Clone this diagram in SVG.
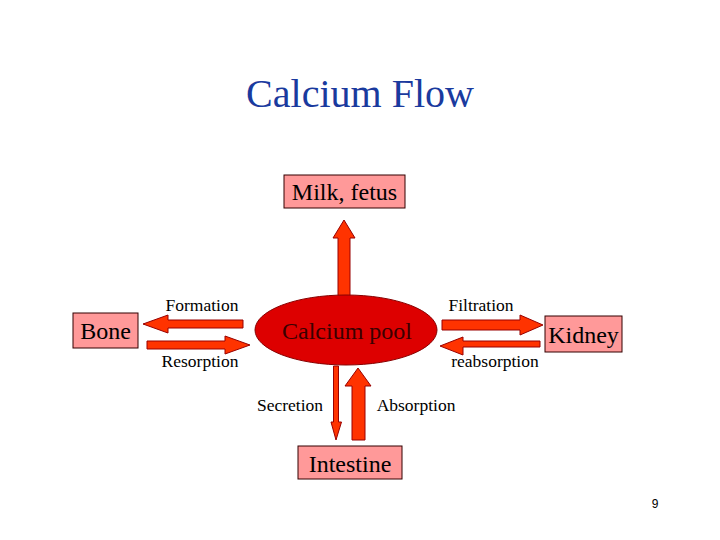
<svg xmlns="http://www.w3.org/2000/svg" width="720" height="540" viewBox="0 0 720 540">
<style>
.box{fill:#ff9999;stroke:#330000;stroke-width:1}
.arr{fill:#ff3300;stroke:#990000;stroke-width:1}
.t{font-family:"Liberation Serif","Times New Roman",serif;fill:#000}
.big{font-size:24px}
.sm{font-size:17.5px}
</style>
<rect width="720" height="540" fill="#fff"/>
<text x="360" y="107" text-anchor="middle" class="t" style="font-size:40px;fill:#1a3a9e">Calcium Flow</text>
<g id="connectors">
<polygon class="arr" points="338,297 338,238 333,238 344,220 355,238 350,238 350,297"/>
<polygon class="arr" points="243,320 168,320 168,315 143,324 168,333 168,328 243,328"/>
<polygon class="arr" points="147,341 225,341 225,336 250,345 225,354 225,349 147,349"/>
<polygon class="arr" points="442,320 520,320 520,315 543,325 520,335 520,330 442,330"/>
<polygon class="arr" points="540,341 463,341 463,337 440,346 463,355 463,347 540,347"/>
<polygon class="arr" points="333.5,366 333.5,422 331,422 336,440 341.5,422 338.5,422 338.5,366"/>
<polygon class="arr" points="352,440 352,386 345,386 358,368 371,386 365,386 365,440"/>
</g>
<g id="milk"><rect class="box" x="284" y="175" width="121" height="33"/><text x="344.5" y="200" text-anchor="middle" class="t big">Milk, fetus</text></g>
<g id="pool"><ellipse cx="346" cy="330" rx="91" ry="35" fill="#dd0000" stroke="#880000" stroke-width="1"/><text x="347" y="339" text-anchor="middle" class="t big" style="fill:#3a0000">Calcium pool</text></g>
<g id="bone"><rect class="box" x="73" y="313" width="65" height="35"/><text x="105.5" y="339" text-anchor="middle" class="t big">Bone</text></g>
<g id="kidney"><rect class="box" x="545" y="316" width="77" height="36"/><text x="583.5" y="343" text-anchor="middle" class="t big">Kidney</text></g>
<g id="intestine"><rect class="box" x="298" y="446" width="104" height="33"/><text x="350" y="472" text-anchor="middle" class="t big">Intestine</text></g>
<g id="labels">
<text x="202" y="311" text-anchor="middle" class="t sm">Formation</text>
<text x="200" y="367" text-anchor="middle" class="t sm">Resorption</text>
<text x="481" y="311" text-anchor="middle" class="t sm">Filtration</text>
<text x="495" y="367" text-anchor="middle" class="t sm">reabsorption</text>
<text x="290" y="411" text-anchor="middle" class="t sm">Secretion</text>
<text x="416" y="411" text-anchor="middle" class="t sm">Absorption</text>
<text x="655" y="508" text-anchor="middle" style="font-family:'Liberation Sans',Arial,sans-serif;font-size:12px">9</text>
</g>
</svg>
